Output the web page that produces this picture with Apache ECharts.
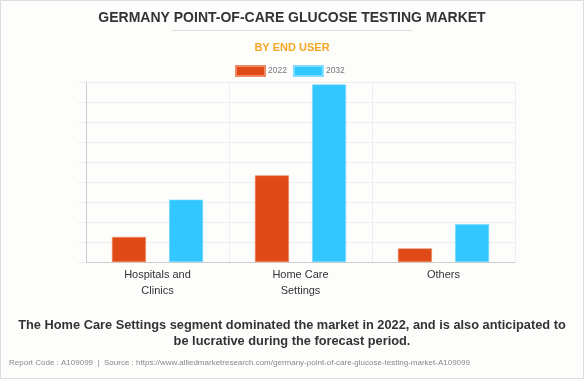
<!DOCTYPE html>
<html><head><meta charset="utf-8">
<script src="https://cdn.jsdelivr.net/npm/echarts@6/dist/echarts.min.js"></script>
<style>html,body{margin:0;padding:0;background:#fff}#c{width:584px;height:379px}</style>
</head><body><div id="c"></div>
<script>
const categories = ['Hospitals and\nClinics', 'Home Care\nSettings', 'Others'];
const seriesNames = ['2022', '2032'];
const values2022 = [1.25, 4.33, 0.68];
const values2032 = [3.12, 8.88, 1.89];
const colors = ['#E04A16', '#33C7FF'];

const chart = echarts.init(document.getElementById('c'));
const F = 'Liberation Sans, Arial, sans-serif';
chart.setOption({
  backgroundColor: '#FDFDFC',
  animation: false,
  title: [
    {text: 'GERMANY POINT-OF-CARE GLUCOSE TESTING MARKET', left: 'center', top: 6,
     textStyle: {fontFamily: F, fontSize: 14, fontWeight: 'bold', color: '#333'}},
    {text: 'BY END USER', left: 'center', top: 37,
     textStyle: {fontFamily: F, fontSize: 11, fontWeight: 'bold', color: '#F5A623'}}
  ],
  graphic: [
    {type: 'line', shape: {x1: 172, y1: 30.5, x2: 412, y2: 30.5}, style: {stroke: '#ddd', lineWidth: 1}},
    {type: 'rect', shape: {x: 0.5, y: 0.5, width: 583, height: 378}, style: {fill: 'none', stroke: '#ddd', lineWidth: 1}},
    {type: 'text', x: 292, y: 317, style: {
      text: 'The Home Care Settings segment dominated the market in 2022, and is also anticipated to\nbe lucrative during the forecast period.',
      font: 'bold 12.8px ' + F, fill: '#333', textAlign: 'center', lineHeight: 16}},
    {type: 'text', x: 9, y: 359, style: {
      text: 'Report Code : A109099  |  Source : https://www.alliedmarketresearch.com/germany-point-of-care-glucose-testing-market-A109099',
      font: '8px ' + F, fill: '#888'}}
  ],
  legend: {
    top: 60, left: 230, itemWidth: 29, itemHeight: 10, itemGap: 6, icon: 'rect',
    textStyle: {fontFamily: F, fontSize: 8.5, color: '#777', padding: [0, 0, 0, -2]},
    data: seriesNames
  },
  grid: {left: 86, right: 69, top: 82, bottom: 117},
  xAxis: {
    type: 'category', data: categories,
    axisLine: {lineStyle: {color: '#ccc'}},
    axisTick: {length: 6, lineStyle: {color: '#e6e6e6'}},
    splitLine: {show: true, lineStyle: {color: '#eee'}},
    axisLabel: {fontFamily: F, fontSize: 11, color: '#333', lineHeight: 16, margin: 5}
  },
  yAxis: {
    type: 'value', min: 0, max: 9, interval: 1,
    axisLine: {show: true, lineStyle: {color: '#ccc'}},
    axisTick: {show: true, length: 8, lineStyle: {color: '#eee'}},
    axisLabel: {show: false},
    splitLine: {lineStyle: {color: '#eee'}}
  },
  series: [
    {name: seriesNames[0], type: 'bar', data: values2022, barWidth: 34, barGap: '68%',
     itemStyle: {color: colors[0], borderColor: '#EC8A66', borderWidth: 0.6}},
    {name: seriesNames[1], type: 'bar', data: values2032, barWidth: 34,
     itemStyle: {color: colors[1], borderColor: '#7FDBFF', borderWidth: 0.6}}
  ]
});
</script></body></html>
